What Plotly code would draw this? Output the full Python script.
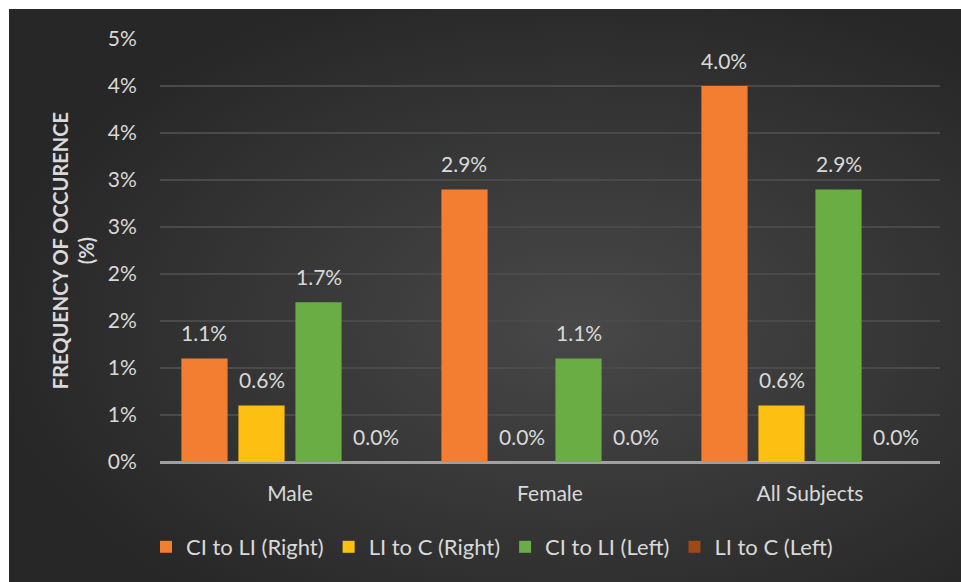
import base64
import plotly.graph_objects as go

# ---- data ----
categories = ["Male", "Female", "All Subjects"]
series_names = ["CI to LI (Right)", "LI to C (Right)", "CI to LI (Left)", "LI to C (Left)"]
ci_li_right = [1.1, 2.9, 4.0]
li_c_right = [0.6, 0.0, 0.6]
ci_li_left = [1.7, 1.1, 2.9]
li_c_left = [0.0, 0.0, 0.0]
series_values = [ci_li_right, li_c_right, ci_li_left, li_c_left]
y_tickvals = [0, 0.5, 1, 1.5, 2, 2.5, 3, 3.5, 4, 4.5]
y_ticktext = ["0%", "1%", "1%", "2%", "2%", "3%", "3%", "4%", "4%", "5%"]

# ---- style ----
colors = ["#f37d30", "#fdbf12", "#6aad45", "#9c4a1a"]
txt = "#d9d9d9"
FONT = "Lato, 'Noto Sans', sans-serif"
BARGAP = 0.123
BARGROUPGAP = 0.19

fig = go.Figure()
for name, vals, col in zip(series_names, series_values, colors):
    fig.add_trace(go.Bar(x=categories, y=vals, name=name,
                         marker=dict(color=col, line=dict(width=0))))

# data labels via annotations aligned with grouped bars
n = len(series_names)
for j, vals in enumerate(series_values):
    off = ((j + 0.5) / n - 0.5) * (1 - BARGAP)
    for i, v in enumerate(vals):
        fig.add_annotation(x=i + off, y=v, xref="x", yref="y",
                           text=f"{v:.1f}%", showarrow=False,
                           yanchor="middle", yshift=26,
                           font=dict(family=FONT, size=21, color=txt))

# y-axis title
fig.add_annotation(xref="paper", yref="paper", x=-0.112, y=0.5,
                   text="<b>FREQUENCY OF OCCURENCE<br>(%)</b>", textangle=-90,
                   showarrow=False, xanchor="center", yanchor="middle",
                   font=dict(family=FONT, size=20, color=txt))

# background (radial gradient dark panel)
svg = """<svg xmlns='http://www.w3.org/2000/svg' width='952' height='573' viewBox='0 0 952 573' preserveAspectRatio='none'>
<defs><radialGradient id='g' cx='0.6' cy='0.55' r='0.62'>
<stop offset='0' stop-color='#484848'/><stop offset='1' stop-color='#272727'/>
</radialGradient></defs>
<rect width='952' height='573' fill='url(#g)'/></svg>"""
src = "data:image/svg+xml;base64," + base64.b64encode(svg.encode()).decode()
W, H = 961, 582
L, R, T, B = 160, 21, 39, 120
pw, ph = W - L - R, H - T - B
px = lambda p: (p - L) / pw
py = lambda p: (H - B - p) / ph
fig.add_layout_image(source=src, xref="paper", yref="paper",
                     x=px(9), y=py(9), sizex=px(961) - px(9), sizey=py(9) - py(582),
                     xanchor="left", yanchor="top", sizing="stretch", layer="below")

fig.update_layout(
    width=W, height=H,
    margin=dict(l=L, r=R, t=T, b=B),
    paper_bgcolor="white",
    plot_bgcolor="rgba(0,0,0,0)",
    barmode="group", bargap=BARGAP, bargroupgap=BARGROUPGAP,
    font=dict(family=FONT, color=txt, size=21),
    showlegend=True,
    legend=dict(orientation="h", x=px(492), xanchor="center", y=py(547), yanchor="middle",
                font=dict(family=FONT, size=22, color=txt), itemwidth=30,
                bgcolor="rgba(0,0,0,0)", traceorder="normal"),
    xaxis=dict(type="category", showgrid=False, ticks="outside", ticklen=13,
               tickcolor="rgba(0,0,0,0)", tickfont=dict(family=FONT, size=21, color=txt),
               showline=False),
    yaxis=dict(range=[0, 4.5], tickvals=y_tickvals, ticktext=y_ticktext,
               showgrid=True, gridcolor="#4a4a4a", gridwidth=1.5,
               zeroline=True, zerolinecolor="#a0a0a0", zerolinewidth=2.5,
               ticks="outside", ticklen=18, tickcolor="rgba(0,0,0,0)",
               tickfont=dict(family=FONT, size=21, color=txt), showline=False),
)

fig.write_html("out.html")
